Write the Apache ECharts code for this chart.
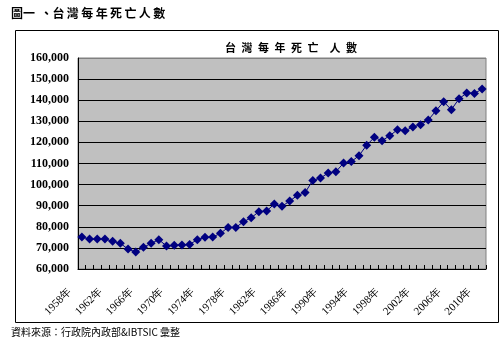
<!DOCTYPE html>
<html>
<head>
<meta charset="utf-8">
<script src="https://cdn.jsdelivr.net/npm/echarts@6/dist/echarts.min.js"></script>
<style>
  html, body { margin: 0; padding: 0; background: #fff; }
  #chart { width: 503px; height: 345px; }
</style>
</head>
<body>
<div id="chart"></div>
<script>
// Annual deaths in Taiwan, 1958–2010
const years = [
  '1958年','1959年','1960年','1961年','1962年','1963年','1964年','1965年','1966年','1967年',
  '1968年','1969年','1970年','1971年','1972年','1973年','1974年','1975年','1976年','1977年',
  '1978年','1979年','1980年','1981年','1982年','1983年','1984年','1985年','1986年','1987年',
  '1988年','1989年','1990年','1991年','1992年','1993年','1994年','1995年','1996年','1997年',
  '1998年','1999年','2000年','2001年','2002年','2003年','2004年','2005年','2006年','2007年',
  '2008年','2009年','2010年'
];
const deaths = [
  75150, 74200, 74200, 74200, 73100, 72150, 69460, 68040, 70250, 72150,
  73900, 70900, 71200, 71350, 71670, 73900, 75000, 75150, 76900, 79700,
  79700, 82400, 84300, 87150, 87500, 90800, 89700, 92200, 94900, 96200,
  102000, 103100, 105500, 106100, 110200, 110900, 113700, 118700, 122400, 120800,
  123200, 126000, 125500, 127300, 128400, 130600, 135000, 139300, 135500, 140700,
  143400, 143200, 145300
];
const yMin = 60000, yMax = 160000, yStep = 10000;

const cjk = '"Noto Sans CJK TC", "Noto Sans CJK SC", sans-serif';
const serif = 'Liberation Serif, serif';

const chart = echarts.init(document.getElementById('chart'), null, { renderer: 'canvas' });

// grid lines: black inside the plot, grey along the top edge
const splitColors = [];
for (let v = yMin; v <= yMax; v += yStep) splitColors.push(v === yMax ? '#808080' : '#000000');

chart.setOption({
  animation: false,
  backgroundColor: '#ffffff',
  title: {
    text: '台\u2002灣\u2002每\u2002年\u2002死\u2002亡\u2002\u2002人\u2002數',
    left: 220,
    top: 37,
    textStyle: { fontFamily: cjk, fontSize: 11, fontWeight: 'bold', color: '#000' }
  },
  graphic: [
    {
      type: 'text', left: 11, top: 7,
      style: {
        text: '圖一  、台\u2009灣\u2009每\u2009年\u2009死\u2009亡\u2009人\u2009數',
        font: 'bold 12px ' + cjk, fill: '#000'
      }
    },
    {
      type: 'rect', left: 13, top: 28, silent: true,
      shape: { width: 483, height: 292 },
      style: { fill: 'none', stroke: '#000', lineWidth: 1 }
    },
    {
      type: 'text', left: 11, top: 327,
      style: {
        text: '資料來源：行政院內政部&IBTSIC 彙整',
        font: '10px ' + cjk, fill: '#000'
      }
    }
  ],
  grid: {
    left: 78, top: 58, width: 408, height: 211,
    show: true, backgroundColor: '#c0c0c0', borderColor: '#808080', borderWidth: 1
  },
  xAxis: {
    type: 'category',
    data: years,
    boundaryGap: true,
    axisLine: { lineStyle: { color: '#000', width: 1 } },
    axisTick: { show: true, inside: true, length: 4, interval: 0, lineStyle: { color: '#000' } },
    axisLabel: {
      interval: 3, rotate: 45, margin: 9,
      padding: [0, 17, 0, 0],
      fontFamily: serif, fontSize: 11, color: '#000'
    },
    splitLine: { show: false }
  },
  yAxis: {
    type: 'value',
    min: yMin, max: yMax, interval: yStep,
    axisLine: { show: true, lineStyle: { color: '#000', width: 1 } },
    axisTick: { show: false },
    axisLabel: {
      margin: 9,
      fontFamily: serif, fontSize: 12, fontWeight: 'bold', color: '#000',
      formatter: v => v.toLocaleString('en-US')
    },
    splitLine: { show: true, lineStyle: { color: splitColors, width: 1 } }
  },
  series: [{
    type: 'line',
    data: deaths,
    symbol: 'diamond',
    symbolSize: 9,
    showAllSymbol: true,
    lineStyle: { color: '#000080', width: 1 },
    itemStyle: { color: '#000080', borderWidth: 0 }
  }]
});
</script>
</body>
</html>
